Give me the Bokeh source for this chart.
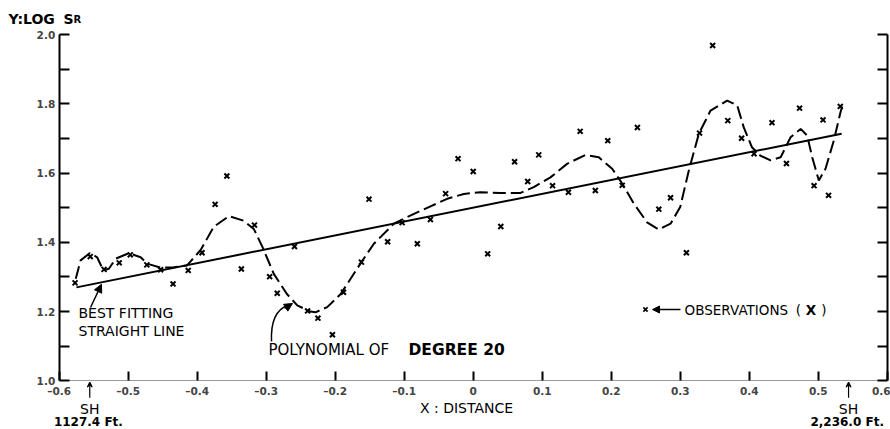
from bokeh.plotting import figure
from bokeh.models import (Range1d, LinearAxis, FixedTicker, CustomJSTickFormatter,
                          PrintfTickFormatter, Label, Arrow, NormalHead, VeeHead)
from bokeh.embed import file_html
from bokeh.resources import INLINE

# ---- data ----
obs_x = [-0.577, -0.555, -0.535, -0.513, -0.497, -0.473, -0.453, -0.435, -0.413, -0.393,
         -0.374, -0.357, -0.336, -0.317, -0.295, -0.284, -0.259, -0.240, -0.225, -0.204,
         -0.188, -0.162, -0.151, -0.124, -0.103, -0.081, -0.062, -0.040, -0.022, 0.000,
         0.021, 0.040, 0.060, 0.079, 0.095, 0.115, 0.138, 0.155, 0.177, 0.195,
         0.216, 0.238, 0.269, 0.286, 0.309, 0.328, 0.347, 0.369, 0.389, 0.407,
         0.433, 0.454, 0.473, 0.494, 0.507, 0.515, 0.532]
obs_y = [1.283, 1.359, 1.322, 1.341, 1.364, 1.335, 1.321, 1.280, 1.319, 1.370,
         1.510, 1.592, 1.323, 1.450, 1.301, 1.253, 1.388, 1.202, 1.181, 1.133,
         1.256, 1.343, 1.525, 1.402, 1.457, 1.396, 1.466, 1.541, 1.642, 1.605,
         1.367, 1.446, 1.633, 1.576, 1.653, 1.564, 1.545, 1.721, 1.550, 1.694,
         1.565, 1.732, 1.496, 1.529, 1.370, 1.716, 1.969, 1.752, 1.701, 1.656,
         1.746, 1.628, 1.788, 1.564, 1.754, 1.536, 1.793]

line_x = [-0.575, 0.534]
line_y = [1.270, 1.714]

poly_x = [-0.576, -0.569, -0.5556, -0.545, -0.536, -0.528, -0.518, -0.499, -0.482, -0.472,
          -0.453, -0.434, -0.415, -0.395, -0.376, -0.354, -0.333, -0.318, -0.305, -0.289,
          -0.270, -0.255, -0.236, -0.2286, -0.2116, -0.192, -0.162, -0.144, -0.115, -0.0957,
          -0.0667, -0.0377, -0.0136, 0.0106, 0.0396, 0.0686, 0.0878, 0.112, 0.136, 0.1628,
          0.182, 0.2014, 0.216, 0.2328, 0.252, 0.269, 0.286, 0.300, 0.3125, 0.327,
          0.344, 0.368, 0.3826, 0.392, 0.404, 0.416, 0.431, 0.4456, 0.460, 0.4746,
          0.484, 0.4913, 0.5009, 0.5106, 0.5227, 0.5323, 0.5348]
poly_y = [1.295, 1.348, 1.369, 1.357, 1.319, 1.324, 1.353, 1.369, 1.357, 1.338,
          1.327, 1.328, 1.333, 1.378, 1.445, 1.476, 1.463, 1.439, 1.385, 1.309,
          1.251, 1.218, 1.200, 1.198, 1.213, 1.251, 1.343, 1.396, 1.454, 1.473,
          1.500, 1.526, 1.540, 1.545, 1.543, 1.543, 1.560, 1.588, 1.627, 1.653,
          1.646, 1.613, 1.570, 1.512, 1.458, 1.437, 1.454, 1.502, 1.608, 1.714,
          1.781, 1.810, 1.796, 1.733, 1.675, 1.651, 1.637, 1.646, 1.704, 1.728,
          1.709, 1.646, 1.579, 1.613, 1.695, 1.776, 1.793]

x_ticks = [-0.6, -0.5, -0.4, -0.3, -0.2, -0.1, 0.0, 0.1, 0.2, 0.3, 0.4, 0.5, 0.6]
y_major = [1.0, 1.2, 1.4, 1.6, 1.8, 2.0]
y_minor = [1.1, 1.3, 1.5, 1.7, 1.9]
y_all = [1.0, 1.1, 1.2, 1.3, 1.4, 1.5, 1.6, 1.7, 1.8, 1.9, 2.0]

FONT = "DejaVu Sans"

# frame covers the whole canvas; axes sit at fixed locations inside it
p = figure(width=890, height=429, output_backend="svg", toolbar_location=None,
           x_range=Range1d(-0.68507, 0.60478), y_range=Range1d(0.85925, 2.09913),
           x_axis_location=None, y_axis_location=None,
           min_border=0)
p.outline_line_color = None
p.xgrid.visible = False
p.ygrid.visible = False
p.background_fill_color = "white"
p.border_fill_color = "white"

# left axis
yl = LinearAxis(ticker=FixedTicker(ticks=y_major, minor_ticks=y_minor),
                formatter=PrintfTickFormatter(format="%.1f"),
                fixed_location=-0.6, bounds=(1.0, 2.0))
yl.axis_line_width = 2
yl.axis_line_color = "black"
yl.major_tick_in = 10
yl.major_tick_out = 0
yl.minor_tick_in = 10
yl.minor_tick_out = 0
yl.major_tick_line_width = 2
yl.minor_tick_line_width = 2
yl.major_label_standoff = 4
yl.major_label_text_font = FONT
yl.major_label_text_font_style = "bold"
yl.major_label_text_font_size = "10.5px"
p.add_layout(yl, "left")

# right axis (ticks only)
yr = LinearAxis(ticker=FixedTicker(ticks=y_all, minor_ticks=[]),
                formatter=CustomJSTickFormatter(code="return ''"),
                fixed_location=0.6, bounds=(1.0, 2.0))
yr.axis_line_width = 2
yr.major_tick_in = 10
yr.major_tick_out = 0
yr.major_tick_line_width = 2
yr.major_label_standoff = 0
yr.major_label_text_font_size = "1px"
p.add_layout(yr, "right")

# bottom axis
xb = LinearAxis(ticker=FixedTicker(ticks=x_ticks, minor_ticks=[]),
                formatter=CustomJSTickFormatter(code="""
                    if (Math.abs(tick) < 1e-9) return '0';
                    return (tick < 0 ? '\u2013' : '') + Math.abs(tick).toFixed(1);"""),
                fixed_location=1.0, bounds=(-0.6, 0.6))
xb.axis_line_color = "#9a9a9a"
xb.axis_line_width = 1
xb.major_tick_in = 9
xb.major_tick_out = 0
xb.major_tick_line_width = 2
xb.major_label_standoff = 4
xb.major_label_text_font = FONT
xb.major_label_text_font_style = "bold"
xb.major_label_text_font_size = "10.5px"
p.add_layout(xb, "below")

# series
p.line(line_x, line_y, line_color="black", line_width=2)
p.line(poly_x, poly_y, line_color="black", line_width=2, line_dash="13 5")
p.scatter(obs_x, obs_y, marker="x", size=7, line_width=2, line_color="black")

def lab(x, y, t, size="14px", style="normal", align="left", base="middle"):
    p.add_layout(Label(x=x, y=y, text=t, text_font=FONT, text_font_size=size,
                       text_font_style=style, text_align=align, text_baseline=base,
                       text_color="black"))

# titles
lab(-0.6735, 2.047, "Y:LOG", size="14px", style="bold")
lab(-0.5938, 2.047, "S", size="14px", style="bold")
lab(-0.5793, 2.044, "R", size="10px", style="bold")
lab(-0.0097, 0.920, "X : DISTANCE", size="14px", align="center")

# SH markers
for sx, ft in [(-0.5557, "1127.4 Ft."), (0.544, "2,236.0 Ft.")]:
    p.add_layout(Arrow(x_start=sx, y_start=0.951, x_end=sx, y_end=0.996,
                       line_width=1.2, end=VeeHead(size=5, line_width=1.2)))
    lab(sx, 0.918, "SH", size="14px", align="center")
    lab(sx - 0.002, 0.880, ft, size="12px", style="bold", align="center")

# best fitting line annotation
lab(-0.572, 1.197, "BEST FITTING", size="14px")
lab(-0.572, 1.145, "STRAIGHT LINE", size="14px")
p.add_layout(Arrow(x_start=-0.5546, y_start=1.212, x_end=-0.5387, y_end=1.279,
                   line_width=1.5, end=NormalHead(size=8, fill_color="black", line_color="black")))

# polynomial annotation
lab(-0.2967, 1.0876, "POLYNOMIAL OF", size="15px")
lab(-0.0938, 1.0876, "DEGREE 20", size="15.5px", style="bold")
p.bezier(x0=[-0.2923], y0=[1.1136], x1=[-0.2691], y1=[1.2176],
         cx0=[-0.2936], cy0=[1.1743], cx1=[-0.2851], cy1=[1.2061],
         line_color="black", line_width=1.5)
p.add_layout(Arrow(x_start=-0.2735, y_start=1.209, x_end=-0.2619, y_end=1.2234,
                   line_width=1.5, end=NormalHead(size=8, fill_color="black", line_color="black")))

# observations legend
p.scatter([0.2497], [1.206], marker="x", size=6, line_width=1.6, line_color="black")
p.add_layout(Arrow(x_start=0.3004, y_start=1.206, x_end=0.2599, y_end=1.206,
                   line_width=1.5, end=NormalHead(size=7, fill_color="black", line_color="black")))
lab(0.3064, 1.206, "OBSERVATIONS", size="13.5px")
lab(0.4714, 1.206, "(", size="13.5px", align="center")
lab(0.4896, 1.206, "X", size="13.5px", style="bold", align="center")
lab(0.5084, 1.206, ")", size="13.5px", align="center")

open("out.html", "w").write(file_html(p, INLINE))
